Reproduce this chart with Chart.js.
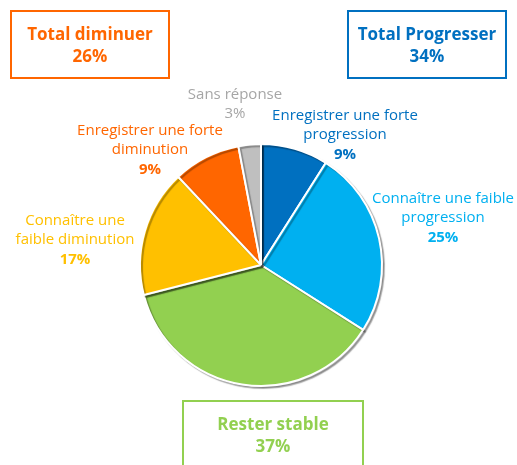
<!DOCTYPE html>
<html lang="fr">
<head>
    <meta charset="UTF-8">
    <title>Evolution</title>
    <style>
        html, body {
            margin: 0;
            padding: 0;
            background: white;
            overflow: hidden;
        }
        #wrap {
            width: 517px;
            height: 465px;
        }
    </style>
    <script src="https://cdn.jsdelivr.net/npm/chart.js@4.4.0/dist/chart.umd.min.js"></script>
</head>
<body>
    <div id="wrap"><canvas id="myChart"></canvas></div>
    <script>
        const categories = ['Enregistrer une forte progression', 'Connaître une faible progression', 'Rester stable',
            'Connaître une faible diminution', 'Enregistrer une forte diminution', 'Sans réponse'];
        const values = [9, 25, 37, 17, 9, 3];
        const labelLines = [
            ['Enregistrer une forte', 'progression'],
            ['Connaître une faible', 'progression'],
            ['Rester stable'],
            ['Connaître une', 'faible diminution'],
            ['Enregistrer une forte', 'diminution'],
            ['Sans réponse']
        ];
        const groupTitles = ['Total diminuer', 'Total Progresser'];

        const colors = ['#0070C0', '#00B0F0', '#92D050', '#FFC000', '#FF6600', '#BFBFBF'];
        const textColors = ['#0070C0', '#00B0F0', '#92D050', '#FFC000', '#FF6600', '#A6A6A6'];
        const FONT = "'Open Sans', sans-serif";

        // label block centre, relative to the pie centre
        const labelOffsets = [[84, -130], [182, -47], null, [-186, -25], [-111, -115], [-26, -161]];

        const shadowPlugin = {
            id: 'shadow',
            beforeDatasetsDraw(chart) {
                const c = chart.ctx;
                c.save();
                c.shadowColor = 'rgba(0,0,0,0.3)';
                c.shadowOffsetX = 2;
                c.shadowOffsetY = 2;
                c.shadowBlur = 1;
            },
            afterDatasetsDraw(chart) {
                chart.ctx.restore();
            }
        };

        function drawBox(c, x, y, w, h, color, lines) {
            c.strokeStyle = color;
            c.lineWidth = 2;
            c.strokeRect(x, y, w, h);
            c.fillStyle = color;
            c.font = 'bold 17px ' + FONT;
            c.textAlign = 'center';
            c.textBaseline = 'middle';
            lines.forEach((t, k) => c.fillText(t, x + w / 2, y + 24 + k * 22));
        }

        const labelPlugin = {
            id: 'outLabels',
            afterDraw(chart) {
                const c = chart.ctx;
                const arcs = chart.getDatasetMeta(0).data;
                c.save();
                c.textAlign = 'center';
                c.textBaseline = 'middle';
                arcs.forEach((arc, i) => {
                    const off = labelOffsets[i];
                    if (!off) return;
                    const lines = labelLines[i];
                    const n = lines.length + 1;
                    const lh = 19.5;
                    const y0 = arc.y + off[1] - (n - 1) * lh / 2;
                    c.fillStyle = textColors[i];
                    c.font = '15px ' + FONT;
                    lines.forEach((t, k) => c.fillText(t, arc.x + off[0], y0 + k * lh));
                    c.font = (i === 5 ? '' : 'bold ') + '15px ' + FONT;
                    c.fillText(values[i] + '%', arc.x + off[0], y0 + lines.length * lh);
                });

                const down = values[3] + values[4];
                const up = values[0] + values[1];
                drawBox(c, 11, 11, 158, 67, '#FF6600', [groupTitles[0], down + '%']);
                drawBox(c, 348, 11, 158, 67, '#0070C0', [groupTitles[1], up + '%']);
                drawBox(c, 183, 401, 180, 80, '#92D050', [labelLines[2][0], values[2] + '%']);
                c.restore();
            }
        };

        new Chart(document.getElementById('myChart'), {
            type: 'pie',
            data: {
                labels: categories,
                datasets: [{
                    data: values,
                    backgroundColor: colors,
                    borderColor: '#ffffff',
                    borderWidth: 2
                }]
            },
            options: {
                responsive: true,
                maintainAspectRatio: false,
                animation: false,
                layout: {
                    padding: { left: 139, right: 134, top: 143, bottom: 78 }
                },
                plugins: {
                    legend: { display: false },
                    tooltip: { enabled: false }
                }
            },
            plugins: [shadowPlugin, labelPlugin]
        });
    </script>
</body>
</html>
